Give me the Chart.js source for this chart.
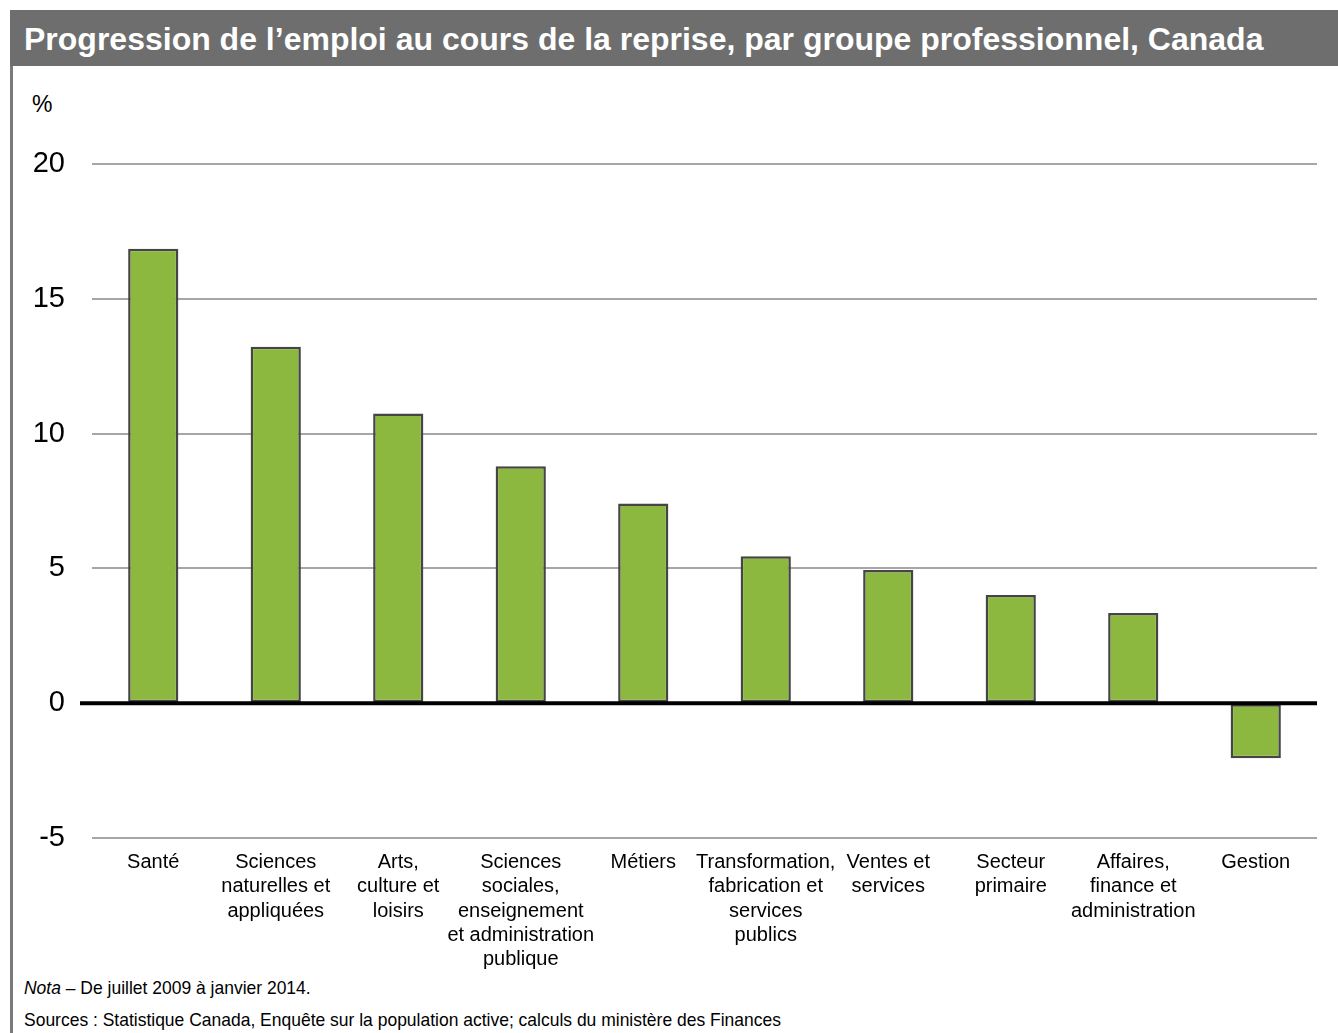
<!DOCTYPE html>
<html>
<head>
<meta charset="utf-8">
<script src="https://cdn.jsdelivr.net/npm/chart.js@4"></script>
<style>
  body { margin: 0; background: #fff; font-family: "Liberation Sans", Arial, sans-serif; }
  #title {
    position: absolute; left: 10px; top: 10px; width: 1328px; height: 56px;
    background: #6e6e6e; color: #fff; font-weight: bold; font-size: 32px;
    line-height: 58px; padding-left: 14px; box-sizing: border-box; white-space: nowrap;
  }
  #frame { position: absolute; left: 10px; top: 66px; width: 3px; height: 967px; background: #7a7a7a; }
  #unit { position: absolute; left: 32px; top: 91px; font-size: 23px; color: #000; }
  #wrap { position: absolute; left: 13px; top: 66px; width: 1325px; height: 910px; }
  .note {
    position: absolute; left: 24px; font-size: 19px; color: #000; white-space: nowrap;
    transform: scaleX(0.92); transform-origin: left center;
  }
</style>
</head>
<body>
<div id="title">Progression de l’emploi au cours de la reprise, par groupe professionnel, Canada</div>
<div id="frame"></div>
<div id="unit">%</div>
<div id="wrap"><canvas id="chart"></canvas></div>
<div class="note" style="top:977px"><i>Nota</i> – De juillet 2009 à janvier 2014.</div>
<div class="note" style="top:1009px">Sources : Statistique Canada, Enquête sur la population active; calculs du ministère des Finances</div>
<script>
const categories = [
  ['Santé'],
  ['Sciences', 'naturelles et', 'appliquées'],
  ['Arts,', 'culture et', 'loisirs'],
  ['Sciences', 'sociales,', 'enseignement', 'et administration', 'publique'],
  ['Métiers'],
  ['Transformation,', 'fabrication et', 'services', 'publics'],
  ['Ventes et', 'services'],
  ['Secteur', 'primaire'],
  ['Affaires,', 'finance et', 'administration'],
  ['Gestion']
];
const growth = [16.86, 13.22, 10.75, 8.79, 7.41, 5.45, 4.94, 4.01, 3.35, -2.04];
const yTicks = [-5, 0, 5, 10, 15, 20];

const zeroLine = {
  id: 'zeroLine',
  afterDatasetsDraw(chart) {
    const { ctx, chartArea, scales } = chart;
    const y = scales.y.getPixelForValue(0);
    ctx.save();
    ctx.strokeStyle = '#000';
    ctx.lineWidth = 4;
    ctx.beginPath();
    ctx.moveTo(chartArea.left - 12, y);
    ctx.lineTo(chartArea.right, y);
    ctx.stroke();
    ctx.restore();
  }
};

new Chart(document.getElementById('chart'), {
  type: 'bar',
  data: {
    labels: categories,
    datasets: [{
      data: growth,
      backgroundColor: '#8cb840',
      borderColor: '#454545',
      borderWidth: 2.5,
      borderSkipped: false,
      barPercentage: 0.41,
      categoryPercentage: 1
    }]
  },
  options: {
    responsive: true,
    maintainAspectRatio: false,
    animation: false,
    layout: { padding: { top: 98, right: 21, left: 0, bottom: 0 } },
    plugins: { legend: { display: false }, tooltip: { enabled: false } },
    scales: {
      x: {
        grid: { display: false, drawTicks: false },
        border: { display: false },
        ticks: {
          color: '#000',
          padding: 12,
          maxRotation: 0,
          autoSkip: false,
          font: { family: '"Liberation Sans", Arial, sans-serif', size: 20, lineHeight: 1.22 }
        },
        afterFit(scale) { scale.height = 138; }
      },
      y: {
        min: -5,
        max: 20,
        afterBuildTicks(scale) { scale.ticks = yTicks.map(v => ({ value: v })); },
        grid: { color: '#a6a6a6', lineWidth: 2, drawTicks: false },
        border: { display: false },
        ticks: {
          color: '#000',
          padding: 27,
          font: { family: '"Liberation Sans", Arial, sans-serif', size: 29 }
        },
        afterFit(scale) { scale.width = 79; }
      }
    }
  },
  plugins: [zeroLine]
});
</script>
</body>
</html>
